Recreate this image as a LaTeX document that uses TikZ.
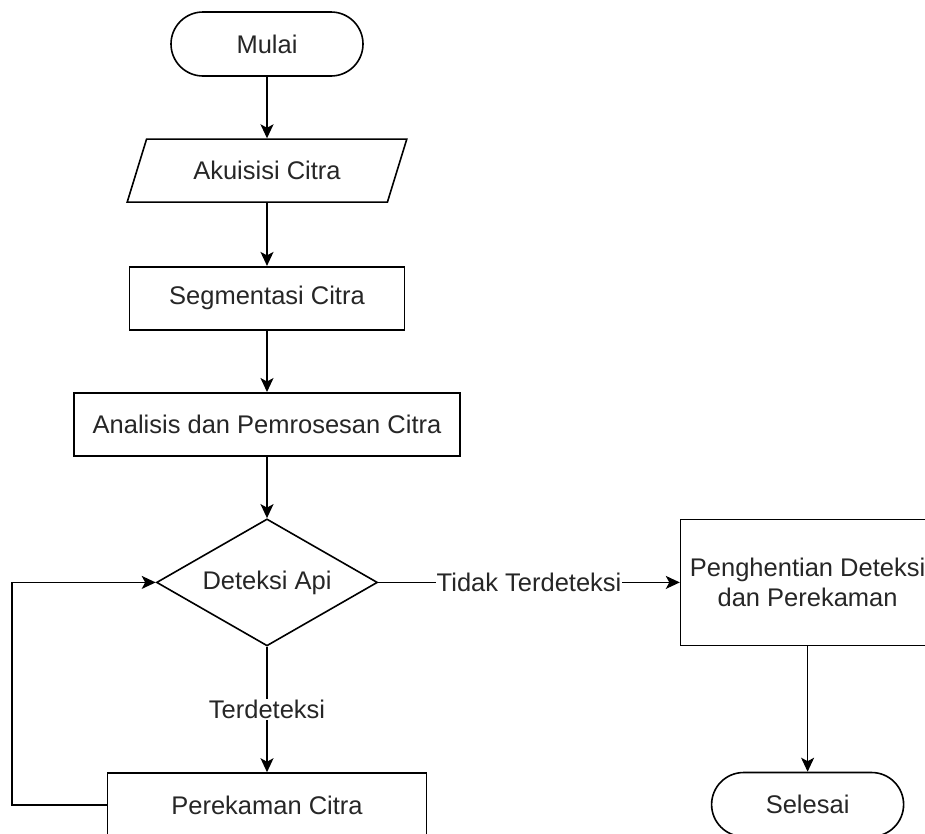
\documentclass[tikz,border=0pt]{standalone}
\usepackage{fontspec}
\setmainfont{Liberation Sans}
\usetikzlibrary{positioning,shapes.geometric,arrows.meta}

\begin{document}
\begin{tikzpicture}[
  x=1pt, y=1pt,
  node distance=61.5pt and 301.5pt,
  every node/.style={font=\fontsize{25.5}{30}\selectfont, text=black!85},
  terminal/.style={draw, rounded corners=32pt, minimum width=192pt,
                   minimum height=64pt, line width=1.6pt},
  io/.style={draw, trapezium, trapezium left angle=64, trapezium right angle=116,
             trapezium stretches=true, minimum width=280pt, minimum height=63pt,
             line width=1.6pt},
  procbox/.style={draw, minimum height=63pt, line width=1.6pt, align=center},
  decision/.style={draw, diamond, aspect=1.74, inner sep=0pt, minimum width=221pt,
                   minimum height=127pt, line width=1.6pt},
  arrow/.style={-{Stealth[length=14pt,width=13pt,inset=3.5pt]}, line width=1.6pt},
  lbl/.style={fill=white, inner sep=1pt}
]
  \useasboundingbox (0,0) rectangle (925,-833);
  \clip (0,0) rectangle (925,-833);

  \node[terminal] (mulai) at (267,-44) {Mulai};
  \node[io, below=of mulai] (akuisisi) {Akuisisi Citra};
  \node[procbox, minimum width=275pt, below=63pt of akuisisi] (segmen) {Segmentasi Citra};
  \node[procbox, minimum width=386pt, below=of segmen] (analisis) {Analisis dan Pemrosesan Citra};
  \node[decision, below=of analisis] (deteksi) {Deteksi Api};
  \node[procbox, minimum width=319pt, minimum height=64pt, below=125.5pt of deteksi] (rekam) {Perekaman Citra};

  \node[procbox, minimum width=254pt, minimum height=126pt, right=of deteksi] (henti) {Penghentian Deteksi\\dan Perekaman};
  \node[terminal, below=125.5pt of henti] (selesai) {Selesai};

  \draw[arrow] (mulai) -- (akuisisi);
  \draw[arrow] (akuisisi) -- (segmen);
  \draw[arrow] (segmen) -- (analisis);
  \draw[arrow] (analisis) -- (deteksi);
  \draw[arrow] (deteksi) -- node[lbl] {Terdeteksi} (rekam);
  \draw[arrow] (deteksi) -- node[lbl] {Tidak Terdeteksi} (henti);
  \draw[arrow] (henti) -- (selesai);
  \draw[arrow] (rekam.west) -- ++(-95,0) |- (deteksi.west);
\end{tikzpicture}
\end{document}
